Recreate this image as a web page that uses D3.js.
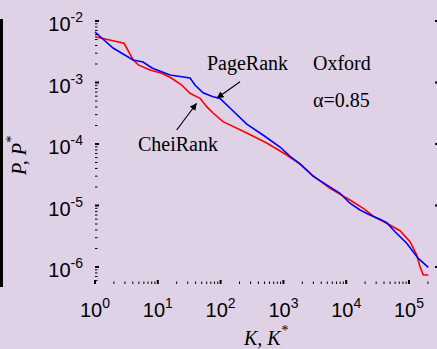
<!DOCTYPE html>
<html>
<head>
<meta charset="utf-8">
<script src="https://cdn.jsdelivr.net/npm/d3@7"></script>
<style>
  html, body { margin: 0; padding: 0; background: #dfd2e7; }
  svg { display: block; }
</style>
</head>
<body>
<div id="chart"></div>
<script>
// PageRank P(K) - blue
var pageK = [1, 1.94, 4.03, 5.81, 8.08, 15.6, 32.6, 39.1, 52.5, 75.7, 97.8, 141, 261, 473, 883, 1274, 1837, 2990, 4890, 7960, 11480, 16590, 23900, 34500, 44150, 59900, 91900, 140600, 203000];
var pageP = [6.62e-3, 3.64e-3, 2.32e-3, 2.15e-3, 1.72e-3, 1.32e-3, 1.18e-3, 9.1e-4, 6.82e-4, 5.87e-4, 5.53e-4, 3.85e-4, 2.11e-4, 1.40e-4, 8.93e-5, 6.3e-5, 4.75e-5, 2.97e-5, 2.16e-5, 1.58e-5, 1.09e-5, 8.45e-6, 7.01e-6, 5.97e-6, 5.25e-6, 3.75e-6, 2.43e-6, 1.38e-6, 9.89e-7];

// CheiRank P*(K*) - red
var cheiK = [1, 2.9, 4.07, 4.89, 7.5, 11.5, 16.6, 24, 32.6, 47, 60, 75.7, 109, 261, 542, 1130, 1837, 2990, 5520, 11480, 18700, 28700, 44150, 71900, 103800, 132700, 149700, 169000, 203000];
var cheiP = [5.56e-3, 4.34e-3, 2.32e-3, 1.93e-3, 1.6e-3, 1.41e-3, 1.17e-3, 9.1e-4, 6.67e-4, 5.53e-4, 4.05e-4, 3.19e-4, 2.31e-4, 1.51e-4, 1.04e-4, 6.62e-5, 4.73e-5, 3.02e-5, 1.9e-5, 1.23e-5, 9.0e-6, 6.43e-6, 5.14e-6, 3.89e-6, 2.58e-6, 1.57e-6, 1.01e-6, 7.41e-7, 7.41e-7];

var xTickExp = [0, 1, 2, 3, 4, 5];
var yTickExp = [-2, -3, -4, -5, -6];

var W = 437, H = 349;
var svg = d3.select("#chart").append("svg")
    .attr("width", W)
    .attr("height", H);

var x = d3.scaleLog().domain([1, 1e5]).range([95, 409]);
var y = d3.scaleLog().domain([1e-6, 1e-2]).range([267, 21]);

var xMax = x.invert(440), yMin = y.invert(284);
var left = x(1), right = x(xMax), top = y(1e-2), bottom = y(yMin);

// piece of the neighbouring panel on the left
svg.append("rect")
    .attr("x", 0).attr("y", 19)
    .attr("width", 3).attr("height", 268)
    .attr("fill", "#000");

// curves
var line = d3.line()
    .x(function (d) { return x(d[0]); })
    .y(function (d) { return y(d[1]); });

svg.append("path")
    .datum(d3.zip(cheiK, cheiP))
    .attr("d", line)
    .attr("fill", "none")
    .attr("stroke", "#ff0000")
    .attr("stroke-width", 1.6);

svg.append("path")
    .datum(d3.zip(pageK, pageP))
    .attr("d", line)
    .attr("fill", "none")
    .attr("stroke", "#0000ff")
    .attr("stroke-width", 1.6);

// minor and major ticks
var g = svg.append("g").attr("stroke", "#000");
var xMinor = [], yMinor = [];
for (var e = 0; e <= 5; e++) {
    for (var m = 2; m <= 9; m++) {
        if (m * Math.pow(10, e) < xMax) xMinor.push(m * Math.pow(10, e));
    }
}
for (var e2 = -7; e2 <= -3; e2++) {
    for (var m2 = 2; m2 <= 9; m2++) {
        var v = m2 * Math.pow(10, e2);
        if (v > yMin && v < 1e-2) yMinor.push(v);
    }
}
xMinor.forEach(function (v) {
    g.append("line").attr("x1", x(v)).attr("x2", x(v)).attr("y1", bottom).attr("y2", bottom - 2.5).attr("stroke-width", 1);
    g.append("line").attr("x1", x(v)).attr("x2", x(v)).attr("y1", top).attr("y2", top + 2.5).attr("stroke-width", 1);
});
yMinor.forEach(function (v) {
    g.append("line").attr("x1", left).attr("x2", left + 2.5).attr("y1", y(v)).attr("y2", y(v)).attr("stroke-width", 1);
    g.append("line").attr("x1", right).attr("x2", right - 3).attr("y1", y(v)).attr("y2", y(v)).attr("stroke-width", 1);
});
xTickExp.forEach(function (e) {
    var px = x(Math.pow(10, e));
    g.append("line").attr("x1", px).attr("x2", px).attr("y1", bottom).attr("y2", bottom - 4).attr("stroke-width", 2);
    g.append("line").attr("x1", px).attr("x2", px).attr("y1", top).attr("y2", top + 4).attr("stroke-width", 2);
});
yTickExp.forEach(function (e) {
    var py = y(Math.pow(10, e));
    g.append("line").attr("x1", left).attr("x2", left + 4).attr("y1", py).attr("y2", py).attr("stroke-width", 2);
    g.append("line").attr("x1", right).attr("x2", right - 5).attr("y1", py).attr("y2", py).attr("stroke-width", 2);
});

// frame
svg.append("rect")
    .attr("x", left).attr("y", top)
    .attr("width", right - left).attr("height", bottom - top)
    .attr("fill", "none")
    .attr("stroke", "#000")
    .attr("stroke-width", 2.5);

// tick labels
var sans = "Liberation Sans, Arial, sans-serif";
yTickExp.forEach(function (e) {
    var t = svg.append("text")
        .attr("x", 83)
        .attr("y", y(Math.pow(10, e)) + 10)
        .attr("text-anchor", "end")
        .style("font-family", sans)
        .style("font-size", "20px");
    t.append("tspan").text("10");
    t.append("tspan").attr("dy", -9).style("font-size", "14px").text(e);
});
xTickExp.forEach(function (e) {
    var t = svg.append("text")
        .attr("x", x(Math.pow(10, e)))
        .attr("y", 317)
        .attr("text-anchor", "middle")
        .style("font-family", sans)
        .style("font-size", "20px");
    t.append("tspan").text("10");
    t.append("tspan").attr("dy", -9).style("font-size", "14px").text(e);
});

// axis titles
var serif = "Liberation Serif, Times New Roman, serif";
var xl = svg.append("text")
    .attr("x", 244).attr("y", 345)
    .style("font-family", serif)
    .style("font-style", "italic")
    .style("font-size", "20px");
xl.append("tspan").text("K, K");
xl.append("tspan").attr("dy", -10).style("font-size", "14px").text("*");

var yl = svg.append("text")
    .attr("transform", "translate(26,175) rotate(-90)")
    .style("font-family", serif)
    .style("font-style", "italic")
    .style("font-size", "20px");
yl.append("tspan").text("P, P");
yl.append("tspan").attr("dy", -10).style("font-size", "14px").text("*");

// annotations
function note(txt, k, p) {
    svg.append("text")
        .attr("x", x(k)).attr("y", y(p))
        .style("font-family", serif)
        .style("font-size", "20px")
        .text(txt);
}
note("PageRank", 60.7, 1.6e-3);
note("Oxford", 2960, 1.6e-3);
note("\u03b1=0.85", 2960, 4.0e-4);
note("CheiRank", 4.84, 7.7e-5);

svg.append("defs").append("marker")
    .attr("id", "ah")
    .attr("viewBox", "0 0 10 10")
    .attr("refX", 10).attr("refY", 5)
    .attr("markerWidth", 7).attr("markerHeight", 7)
    .attr("markerUnits", "userSpaceOnUse")
    .attr("orient", "auto")
    .append("path")
    .attr("d", "M0,0 L10,5 L0,10 z")
    .attr("fill", "#000");

function arrow(k0, p0, k1, p1) {
    svg.append("line")
        .attr("x1", x(k0)).attr("y1", y(p0))
        .attr("x2", x(k1)).attr("y2", y(p1))
        .attr("stroke", "#000")
        .attr("stroke-width", 1.2)
        .attr("marker-end", "url(#ah)");
}
arrow(204, 1.03e-3, 86.7, 5.53e-4);
arrow(20, 1.69e-4, 41.6, 4.6e-4);
</script>
</body>
</html>
